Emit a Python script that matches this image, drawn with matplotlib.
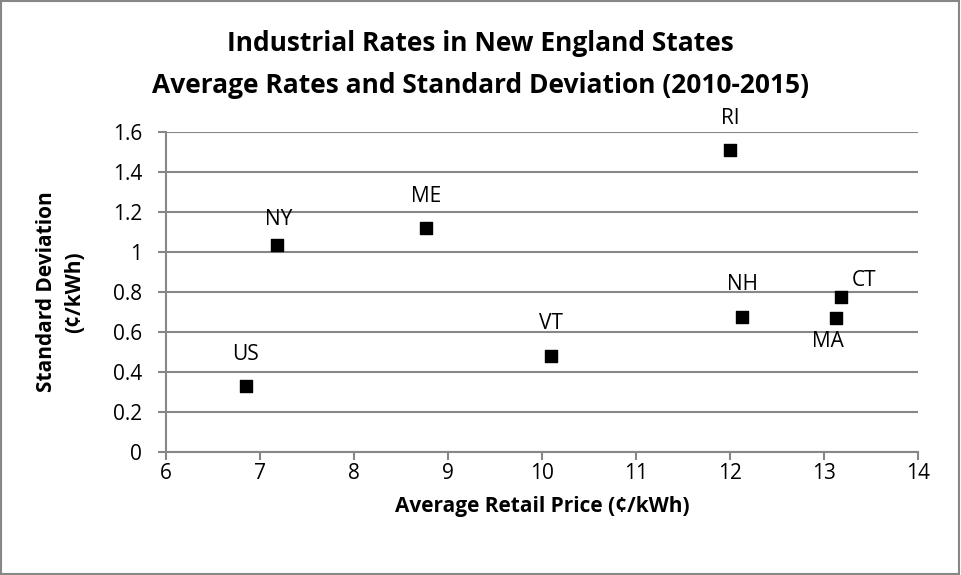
""" Industrial rates in New England states - average vs standard deviation """

import matplotlib
matplotlib.use('Agg')
import matplotlib.pyplot as plt
from matplotlib.patches import Rectangle

# Dados
estados = ['US', 'NY', 'ME', 'VT', 'RI', 'NH', 'CT', 'MA']
preco_medio = [6.85, 7.18, 8.77, 10.10, 12.00, 12.13, 13.18, 13.13]
desvio_padrao = [0.33, 1.033, 1.118, 0.482, 1.508, 0.677, 0.773, 0.672]

# posicao dos rotulos (pixels em relacao ao ponto)
deslocamento = {'NY': (2, 26), 'CT': (23, 17), 'MA': (-8, -24)}

plt.rcParams['font.family'] = ['Open Sans', 'DejaVu Sans']
cinza = '#878787'

fig = plt.figure(figsize=(9.61, 5.75), dpi=100)
ax = fig.add_axes([0.1727, 0.2134, 0.9553 - 0.1727, 0.771 - 0.2134])

ax.scatter(preco_medio, desvio_padrao, marker='s', s=80, color='black', zorder=3)
for nome, x, y in zip(estados, preco_medio, desvio_padrao):
    dx, dy = deslocamento.get(nome, (0, 32))
    ax.annotate(nome, (x, y), xytext=(dx, dy), textcoords='offset pixels',
                ha='center', va='center', fontsize=15)

ax.set_xlim(6, 14)
ax.set_ylim(0, 1.6)
ax.set_xticks(range(6, 15))
ax.set_yticks([0, 0.2, 0.4, 0.6, 0.8, 1.0, 1.2, 1.4, 1.6])
ax.set_yticklabels(['0', '0.2', '0.4', '0.6', '0.8', '1', '1.2', '1.4', '1.6'])
ax.tick_params(labelsize=15, color=cinza, length=6, width=1.5)
ax.tick_params(axis='y', pad=11)
ax.tick_params(axis='x', pad=2)
ax.grid(axis='y', color=cinza, linewidth=1.5)
ax.set_axisbelow(True)
for lado in ['top', 'right']:
    ax.spines[lado].set_visible(False)
for lado in ['left', 'bottom']:
    ax.spines[lado].set_color(cinza)
    ax.spines[lado].set_linewidth(1.5)

ax.set_xlabel('Average Retail Price (¢/kWh)', fontsize=15, fontweight='bold', labelpad=8)
ax.set_ylabel('Standard Deviation\n(¢/kWh)', fontsize=15, fontweight='bold', labelpad=20,
              linespacing=1.45)

fig.text(0.5, 0.925, 'Industrial Rates in New England States', ha='center', va='center',
         fontsize=19, fontweight='bold')
fig.text(0.5, 0.852, 'Average Rates and Standard Deviation (2010-2015)', ha='center', va='center',
         fontsize=19, fontweight='bold')

# moldura do grafico
fig.patches.append(Rectangle((0.001, 0.002), 0.997, 0.996, transform=fig.transFigure,
                             fill=False, edgecolor=cinza, linewidth=1.5))

fig.savefig('out.png', dpi=100)
